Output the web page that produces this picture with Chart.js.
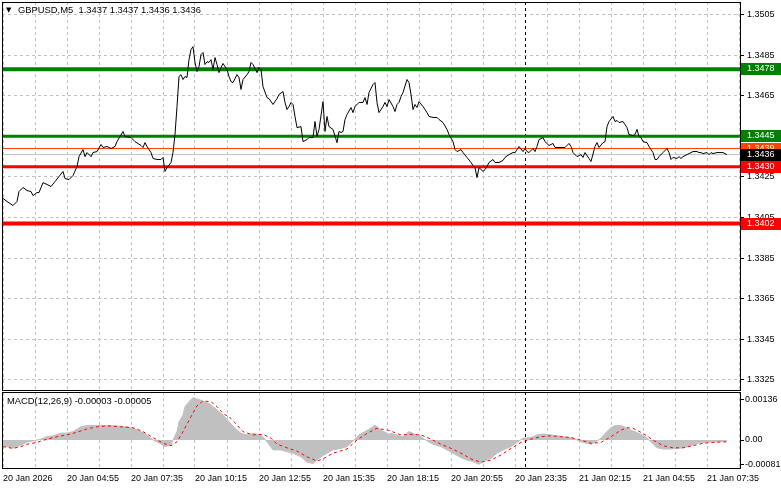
<!DOCTYPE html>
<html>
<head>
<meta charset="utf-8">
<title>GBPUSD M5</title>
<script src="https://cdn.jsdelivr.net/npm/chart.js@4.4.1/dist/chart.umd.min.js"></script>
<style>
  body { margin: 0; background: #fff; }
  #wrap { position: relative; width: 781px; height: 489px; }
  canvas { position: absolute; left: 0; }
  #priceChart { top: 0; }
  #macdChart { top: 391px; }
</style>
</head>
<body>
<div id="wrap">
  <canvas id="priceChart" width="781" height="391"></canvas>
  <canvas id="macdChart" width="781" height="98"></canvas>
</div>
<script>
//* Input data //*

var symbolTitle = 'GBPUSD,M5  1.3437 1.3437 1.3436 1.3436';
var macdTitle = 'MACD(12,26,9) -0.00003 -0.00005';

// Time labels, one every 32 bars of M5 (2h40m), first bar is 20 Jan 02:15.
var timeLabels = ['20 Jan 2026', '20 Jan 04:55', '20 Jan 07:35', '20 Jan 10:15', '20 Jan 12:55', '20 Jan 15:35',
                  '20 Jan 18:15', '20 Jan 20:55', '20 Jan 23:35', '21 Jan 02:15', '21 Jan 04:55', '21 Jan 07:35'];
var barsPerLabel = 32;
var barsPerGrid = 16;
var windowBars = 368;       // bars that fit in the window
var daySeparatorBar = 261;  // 21 Jan 00:00

var priceTickLabels = ['1.3325', '1.3345', '1.3365', '1.3385', '1.3405', '1.3425', '1.3445', '1.3465', '1.3485', '1.3505'];
var macdTickLabels = ['-0.00081', '0.00', '0.00136'];

// Close prices (bar index, price).
var priceBars = [
    0, 2, 5, 7, 8, 10, 12, 14,
    15, 17, 18, 20, 22, 24, 26, 28,
    30, 31, 33, 35, 37, 38, 40, 41,
    42, 44, 45, 47, 49, 50, 52, 54,
    56, 57, 60, 61, 64, 66, 69, 70,
    71, 72, 74, 75, 77, 79, 80, 81,
    82, 84, 85, 86, 87, 88, 89, 90,
    91, 92, 93, 94, 95, 96, 97, 98,
    99, 100, 101, 102, 103, 104, 105, 106,
    107, 108, 109, 110, 112, 113, 114, 115,
    117, 118, 119, 120, 122, 123, 124, 125,
    127, 128, 129, 130, 132, 133, 135, 137,
    138, 140, 141, 142, 143, 144, 145, 146,
    147, 149, 150, 152, 153, 155, 156, 157,
    158, 160, 161, 162, 163, 165, 167, 168,
    169, 170, 171, 172, 174, 175, 176, 178,
    180, 181, 182, 183, 185, 186, 187, 188,
    190, 191, 192, 193, 195, 196, 197, 198,
    199, 200, 202, 203, 204, 205, 206, 207,
    208, 210, 211, 212, 213, 215, 217, 218,
    220, 222, 223, 225, 226, 227, 229, 230,
    232, 234, 235, 236, 237, 238, 240, 241,
    242, 243, 245, 246, 248, 250, 251, 253,
    255, 256, 257, 258, 260, 261, 262, 263,
    265, 266, 267, 268, 270, 271, 273, 275,
    276, 279, 281, 283, 284, 285, 287, 289,
    290, 291, 293, 294, 296, 297, 298, 300,
    301, 302, 303, 305, 306, 307, 308, 310,
    311, 312, 313, 315, 316, 317, 318, 319,
    320, 322, 323, 325, 326, 327, 328, 330,
    332, 333, 334, 335, 337, 338, 339, 340,
    342, 344, 345, 347, 348, 349, 350, 352,
    353, 354, 355, 357, 359, 360, 361, 362
];
var priceVals = [
    1.34144, 1.34129, 1.34109, 1.34129, 1.34178, 1.34198, 1.34183, 1.34178,
    1.34158, 1.34173, 1.34173, 1.34222, 1.34213, 1.34203, 1.34227, 1.34252,
    1.34277, 1.34242, 1.34237, 1.34257, 1.34301, 1.34350, 1.34385, 1.34350,
    1.34370, 1.34350, 1.34370, 1.34375, 1.34410, 1.34395, 1.34400, 1.34390,
    1.34400, 1.34424, 1.34474, 1.34449, 1.34444, 1.34424, 1.34405, 1.34395,
    1.34419, 1.34400, 1.34370, 1.34341, 1.34336, 1.34336, 1.34346, 1.34277,
    1.34296, 1.34321, 1.34370, 1.34459, 1.34597, 1.34745, 1.34754, 1.34730,
    1.34745, 1.34740, 1.34828, 1.34878, 1.34892, 1.34814, 1.34769, 1.34794,
    1.34853, 1.34863, 1.34804, 1.34818, 1.34814, 1.34828, 1.34779, 1.34838,
    1.34804, 1.34764, 1.34789, 1.34809, 1.34779, 1.34745, 1.34720, 1.34715,
    1.34754, 1.34740, 1.34681, 1.34730, 1.34754, 1.34769, 1.34814, 1.34804,
    1.34764, 1.34789, 1.34779, 1.34695, 1.34641, 1.34636, 1.34607, 1.34636,
    1.34656, 1.34671, 1.34617, 1.34582, 1.34597, 1.34617, 1.34607, 1.34548,
    1.34493, 1.34498, 1.34424, 1.34434, 1.34444, 1.34444, 1.34523, 1.34449,
    1.34484, 1.34621, 1.34474, 1.34548, 1.34498, 1.34484, 1.34419, 1.34474,
    1.34469, 1.34474, 1.34533, 1.34557, 1.34592, 1.34567, 1.34597, 1.34617,
    1.34617, 1.34641, 1.34607, 1.34666, 1.34705, 1.34715, 1.34617, 1.34567,
    1.34597, 1.34617, 1.34597, 1.34631, 1.34597, 1.34572, 1.34607, 1.34617,
    1.34646, 1.34666, 1.34730, 1.34715, 1.34656, 1.34582, 1.34607, 1.34592,
    1.34621, 1.34597, 1.34582, 1.34567, 1.34548, 1.34543, 1.34543, 1.34533,
    1.34518, 1.34484, 1.34459, 1.34424, 1.34385, 1.34375, 1.34385, 1.34370,
    1.34346, 1.34321, 1.34306, 1.34296, 1.34247, 1.34296, 1.34277, 1.34286,
    1.34301, 1.34321, 1.34336, 1.34321, 1.34321, 1.34331, 1.34346, 1.34360,
    1.34370, 1.34370, 1.34385, 1.34400, 1.34375, 1.34390, 1.34375, 1.34370,
    1.34390, 1.34375, 1.34400, 1.34434, 1.34444, 1.34424, 1.34405, 1.34415,
    1.34395, 1.34395, 1.34395, 1.34415, 1.34400, 1.34370, 1.34350, 1.34360,
    1.34346, 1.34370, 1.34341, 1.34326, 1.34400, 1.34419, 1.34395, 1.34419,
    1.34424, 1.34498, 1.34523, 1.34548, 1.34523, 1.34528, 1.34518, 1.34523,
    1.34508, 1.34493, 1.34459, 1.34454, 1.34459, 1.34484, 1.34449, 1.34444,
    1.34424, 1.34419, 1.34400, 1.34370, 1.34336, 1.34336, 1.34350, 1.34370,
    1.34390, 1.34370, 1.34336, 1.34346, 1.34341, 1.34350, 1.34341, 1.34350,
    1.34360, 1.34370, 1.34375, 1.34375, 1.34370, 1.34370, 1.34365, 1.34370,
    1.34360, 1.34370, 1.34365, 1.34370, 1.34370, 1.34370, 1.34365, 1.34360
];

// MACD main (histogram) and signal line.
var macdBars = [
    0, 5, 9, 12, 15, 19, 22, 25,
    29, 32, 35, 39, 42, 47, 52, 57,
    62, 65, 69, 72, 75, 79, 81, 84,
    85, 87, 88, 90, 91, 93, 95, 97,
    100, 103, 106, 110, 113, 116, 119, 122,
    125, 129, 132, 135, 139, 142, 145, 149,
    152, 155, 159, 162, 165, 169, 172, 175,
    178, 181, 185, 186, 189, 193, 194, 197,
    200, 203, 205, 209, 212, 215, 219, 222,
    225, 229, 232, 235, 238, 240, 244, 247,
    250, 254, 257, 260, 264, 267, 270, 274,
    277, 280, 284, 287, 290, 294, 296, 299,
    301, 304, 306, 309, 312, 315, 319, 321,
    324, 327, 330, 334, 337, 340, 344, 347,
    350, 354, 357, 362
];
var macdVals = [
    -0.00019, -0.00027, -0.00017, -0.00007, -0.00003, 0.00003, 0.00011, 0.00014,
    0.00023, 0.00023, 0.00028, 0.00044, 0.00048, 0.00048, 0.00048, 0.00047,
    0.00044, 0.00039, 0.00028, 0.00017, 0, -0.00013, -0.00022, -0.00017,
    0, 0.00028, 0.00061, 0.00083, 0.00111, 0.00128, 0.00141, 0.00137,
    0.00130, 0.00122, 0.00106, 0.00083, 0.00061, 0.00039, 0.00022, 0.00017,
    0.00022, 0.00017, -0.00006, -0.00033, -0.00033, -0.00039, -0.00044, -0.00056,
    -0.00074, -0.00078, -0.00056, -0.00044, -0.00033, -0.00028, -0.00022, -0.00003,
    0.00017, 0.00028, 0.00044, 0.00050, 0.00033, 0.00019, 0.00022, 0.00017,
    0.00011, 0.00028, 0.00022, 0.00011, -0.00003, -0.00014, -0.00022, -0.00033,
    -0.00044, -0.00059, -0.00067, -0.00072, -0.00081, -0.00072, -0.00061, -0.00044,
    -0.00033, -0.00022, -0.00008, 0.00006, 0.00008, 0.00017, 0.00020, 0.00017,
    0.00014, 0.00011, 0.00008, 0, -0.00008, -0.00014, -0.00008, 0.00006,
    0.00022, 0.00041, 0.00048, 0.00048, 0.00039, 0.00030, 0.00019, 0.00011,
    -0.00006, -0.00026, -0.00030, -0.00030, -0.00028, -0.00026, -0.00019, -0.00011,
    -0.00008, -0.00006, -0.00006, -0.00003
];
var signalBars = [
    0, 5, 9, 12, 17, 22, 27, 32,
    37, 42, 47, 52, 59, 65, 70, 75,
    80, 84, 87, 90, 94, 97, 100, 104,
    107, 110, 114, 117, 120, 125, 130, 134,
    137, 142, 147, 152, 157, 160, 165, 172,
    177, 182, 187, 193, 199, 204, 209, 214,
    219, 224, 229, 234, 239, 244, 249, 254,
    259, 264, 269, 274, 279, 284, 289, 294,
    299, 304, 309, 312, 315, 320, 325, 330,
    335, 340, 345, 350, 355, 362
];
var signalVals = [
    -0.00022, -0.00028, -0.00022, -0.00014, -0.00008, 0.00003, 0.00011, 0.00017,
    0.00026, 0.00037, 0.00044, 0.00047, 0.00044, 0.00041, 0.00028, 0.00008,
    -0.00011, -0.00019, -0.00006, 0.00028, 0.00078, 0.00114, 0.00130, 0.00128,
    0.00111, 0.00089, 0.00072, 0.00050, 0.00028, 0.00017, 0.00019, 0.00006,
    -0.00014, -0.00026, -0.00037, -0.00056, -0.00070, -0.00063, -0.00044, -0.00030,
    0, 0.00022, 0.00039, 0.00032, 0.00017, 0.00019, 0.00017, 0.00003,
    -0.00014, -0.00028, -0.00044, -0.00063, -0.00074, -0.00067, -0.00050, -0.00028,
    -0.00008, 0.00003, 0.00011, 0.00014, 0.00011, 0.00008, 0, -0.00011,
    -0.00008, 0.00011, 0.00033, 0.00041, 0.00039, 0.00022, 0, -0.00019,
    -0.00026, -0.00026, -0.00019, -0.00011, -0.00008, -0.00006
];

// Horizontal levels on the price window (the last one is the bid line).
var levelVals = [1.3478, 1.3445, 1.3439, 1.3430, 1.3402, 1.3436];
var levelLineColors = ['#008000', '#008000', '#ff4500', '#ff0000', '#ff0000', '#c0c0c0'];
var levelLabelColors = ['#008000', '#008000', '#ff4500', '#ff0000', '#ff0000', '#000000'];
var levelWidths = [4, 3, 1, 3, 4, 1];

//* Styles //*

Chart.defaults.font.family = 'Liberation Sans';
Chart.defaults.font.size = 9;
Chart.defaults.color = '#000';

var gridColor = '#c0c0c0';
var gridDash = [3, 3];
var titleFont = '9.4px "Liberation Sans"';
var xMin = -0.5;
var xMax = windowBars + 0.5;

function toPoints(bars, vals) {
    // Pair bar indexes with values for the linear x scale.
    return bars.map(function (b, i) { return {x: b, y: vals[i]}; });
}

function gridTicks(axis) {
    // Vertical grid every 16 bars, labels every 32.
    var ticks = [];
    var b;
    for (b = 0; b <= windowBars; b += barsPerGrid) {
        ticks.push({value: b});
    }
    axis.ticks = ticks;
}

function noScalePadding(axis) {
    axis.paddingTop = 0;
    axis.paddingBottom = 0;
    axis.paddingLeft = 0;
    axis.paddingRight = 0;
}

function buildLevelDatasets() {
    var sets = [];
    var i;
    for (i = 0; i < levelVals.length; i++) {
        sets.push({
            data: [{x: xMin, y: levelVals[i]}, {x: xMax, y: levelVals[i]}],
            borderColor: levelLineColors[i],
            borderWidth: levelWidths[i],
            pointRadius: 0
        });
    }
    return sets;
}

function drawSeparator(chart) {
    // Dashed black line at the start of a new day.
    var a = chart.chartArea;
    var ctx = chart.ctx;
    var x = Math.round(chart.scales.x.getPixelForValue(daySeparatorBar)) + 0.5;
    ctx.save();
    ctx.strokeStyle = '#000';
    ctx.lineWidth = 1;
    ctx.setLineDash([3, 3]);
    ctx.beginPath();
    ctx.moveTo(x, a.top);
    ctx.lineTo(x, a.bottom);
    ctx.stroke();
    ctx.restore();
}

function drawFrame(chart) {
    var a = chart.chartArea;
    var ctx = chart.ctx;
    ctx.save();
    ctx.strokeStyle = '#000';
    ctx.lineWidth = 1;
    ctx.strokeRect(a.left + 0.5, a.top + 0.5, a.right - a.left, a.bottom - a.top);
    ctx.restore();
}

var pricePanel = {
    id: 'pricePanel',
    beforeDatasetsDraw: function (chart) { drawSeparator(chart); },
    afterDraw: function (chart) {
        var ctx = chart.ctx;
        var yScale = chart.scales.y;
        var i;
        drawFrame(chart);
        ctx.save();
        ctx.textBaseline = 'middle';
        ctx.fillStyle = '#000';
        ctx.font = '7px "DejaVu Sans"';
        ctx.fillText('\u25BC', 6, 10);
        ctx.font = titleFont;
        ctx.fillText(symbolTitle, 18, 10);
        // Price labels of the levels on the right axis.
        ctx.font = '9px "Liberation Sans"';
        for (i = 0; i < levelVals.length; i++) {
            var y = Math.round(yScale.getPixelForValue(levelVals[i]));
            ctx.fillStyle = levelLabelColors[i];
            ctx.fillRect(741, y - 6, 40, 12);
            ctx.fillStyle = '#fff';
            ctx.fillText(levelVals[i].toFixed(4), 747, y);
        }
        ctx.restore();
    }
};

var macdPanel = {
    id: 'macdPanel',
    beforeDatasetsDraw: function (chart) { drawSeparator(chart); },
    afterDraw: function (chart) {
        var ctx = chart.ctx;
        drawFrame(chart);
        ctx.save();
        ctx.textBaseline = 'middle';
        ctx.fillStyle = '#000';
        ctx.font = titleFont;
        ctx.fillText(macdTitle, 7, 10);
        ctx.restore();
    }
};

//* Price chart //*

var priceChart = new Chart(document.getElementById('priceChart'), {
    type: 'line',
    data: {
        datasets: [{
            data: toPoints(priceBars, priceVals),
            borderColor: '#000',
            borderWidth: 1,
            pointRadius: 0
        }].concat(buildLevelDatasets())
    },
    options: {
        responsive: false,
        animation: false,
        layout: {padding: {left: 2, top: 2, right: 0, bottom: 1}},
        plugins: {legend: {display: false}, tooltip: {enabled: false}},
        scales: {
            x: {
                type: 'linear', min: xMin, max: xMax,
                afterBuildTicks: gridTicks,
                afterFit: function (axis) { axis.height = 0; noScalePadding(axis); },
                ticks: {display: false},
                grid: {color: gridColor, drawTicks: false},
                border: {display: false, dash: gridDash}
            },
            y: {
                position: 'right', min: 1.33200, max: 1.35112,
                afterBuildTicks: function (axis) {
                    axis.ticks = priceTickLabels.map(function (t) { return {value: parseFloat(t)}; });
                },
                afterFit: function (axis) { axis.width = 41; noScalePadding(axis); },
                ticks: {
                    padding: 3,
                    callback: function (v, i) { return priceTickLabels[i]; }
                },
                grid: {color: gridColor, tickColor: '#000', tickLength: 4},
                border: {color: '#000', dash: gridDash}
            }
        }
    },
    plugins: [pricePanel]
});

//* MACD chart //*

var macdChart = new Chart(document.getElementById('macdChart'), {
    type: 'line',
    data: {
        datasets: [{
            data: toPoints(signalBars, signalVals),
            borderColor: '#ff0000',
            borderWidth: 1,
            borderDash: [3, 3],
            pointRadius: 0
        }, {
            data: toPoints(macdBars, macdVals),
            borderColor: '#c0c0c0',
            backgroundColor: '#c0c0c0',
            borderWidth: 1,
            fill: 'origin',
            pointRadius: 0
        }]
    },
    options: {
        responsive: false,
        animation: false,
        layout: {padding: {left: 2, top: 1, right: 0, bottom: 0}},
        plugins: {legend: {display: false}, tooltip: {enabled: false}},
        scales: {
            x: {
                type: 'linear', min: xMin, max: xMax,
                afterBuildTicks: gridTicks,
                afterFit: function (axis) { axis.height = 21; noScalePadding(axis); },
                ticks: {
                    autoSkip: false, maxRotation: 0, minRotation: 0, align: 'start', padding: 5,
                    callback: function (v) { return v % barsPerLabel === 0 ? timeLabels[v / barsPerLabel] : ''; }
                },
                grid: {color: gridColor, drawTicks: false},
                border: {display: false, dash: gridDash}
            },
            y: {
                position: 'right', min: -0.000933, max: 0.0016,
                afterBuildTicks: function (axis) {
                    axis.ticks = macdTickLabels.map(function (t) { return {value: parseFloat(t)}; });
                },
                afterFit: function (axis) { axis.width = 41; noScalePadding(axis); },
                ticks: {
                    padding: 1,
                    callback: function (v, i) { return macdTickLabels[i]; }
                },
                grid: {drawOnChartArea: false, tickColor: '#000', tickLength: 4},
                border: {color: '#000'}
            }
        }
    },
    plugins: [macdPanel]
});
</script>
</body>
</html>
